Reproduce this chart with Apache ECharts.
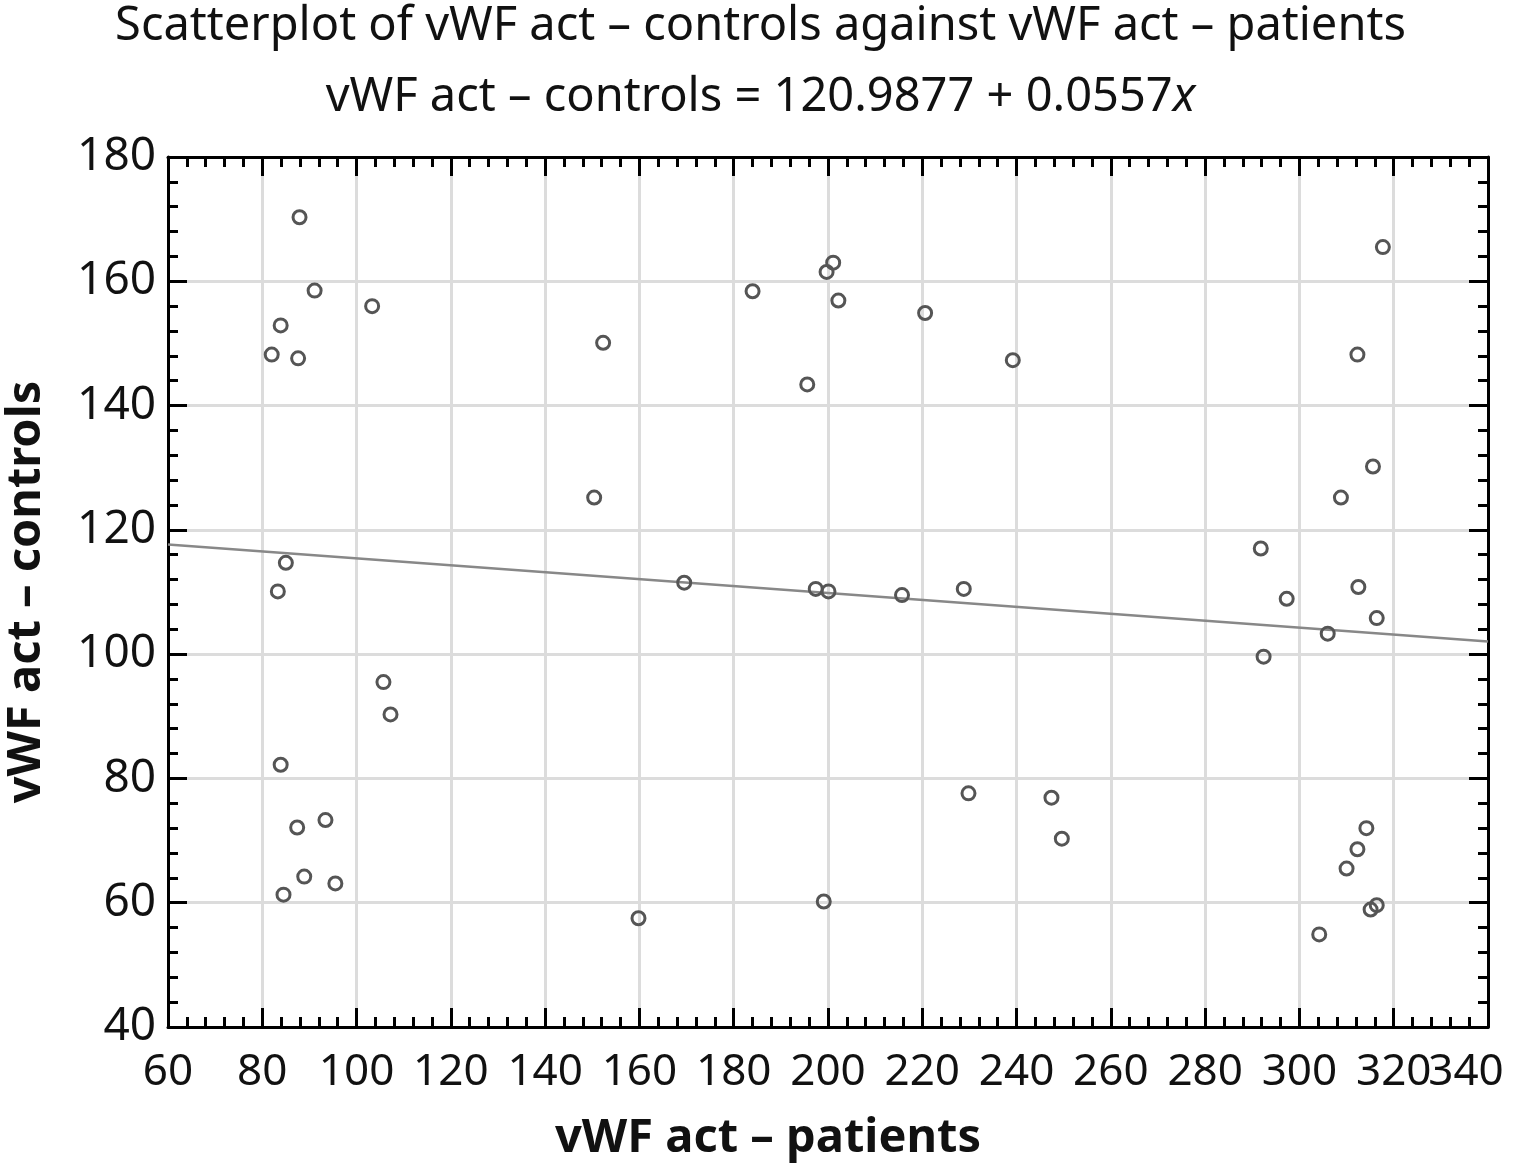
<!DOCTYPE html>
<html>
<head>
<meta charset="utf-8">
<script src="https://cdn.jsdelivr.net/npm/echarts@6/dist/echarts.min.js"></script>
<style>
html,body{margin:0;padding:0;background:#fff;}
#chart{width:1521px;height:1172px;}
</style>
</head>
<body>
<div id="chart"></div>
<script>
// vWF act – patients (x)
const patients = [87.9, 91.1, 83.9, 82.0, 87.6, 103.3, 152.3, 150.4, 85.0, 83.3,
  105.7, 107.2, 83.9, 87.4, 93.4, 88.9, 84.5, 95.5, 159.8, 169.5,
  184.0, 195.6, 199.7, 201.1, 202.2, 197.4, 200.1, 199.1, 220.6, 215.7,
  228.8, 229.8, 239.2, 247.4, 249.6, 291.8, 292.4, 297.3, 308.8, 317.7,
  312.3, 315.6, 312.5, 316.4, 306.0, 314.2, 312.3, 310.0, 316.4, 315.1, 304.2];
// vWF act – controls (y)
const controls = [170.3, 158.5, 152.9, 148.2, 147.6, 156.0, 150.1, 125.2, 114.7, 110.1,
  95.5, 90.3, 82.2, 72.1, 73.3, 64.2, 61.3, 63.1, 57.5, 111.5,
  158.4, 143.4, 161.5, 163.0, 156.9, 110.5, 110.1, 60.2, 154.9, 109.5,
  110.5, 77.6, 147.3, 76.9, 70.3, 117.0, 99.6, 108.9, 125.2, 165.5,
  148.2, 130.2, 110.8, 105.8, 103.3, 72.0, 68.6, 65.5, 59.6, 58.9, 54.9];
// regression line endpoints
const lineX = [60, 340];
const lineY = [117.65, 102.05];

const titleLine1 = 'Scatterplot of vWF act \u2013 controls against vWF act \u2013 patients';
const titleLine2 = 'vWF act \u2013 controls = 120.9877 + 0.0557';
const xName = 'vWF act \u2013 patients';
const yName = 'vWF act \u2013 controls';
const X_MIN = 60, X_MAX = 340, Y_MIN = 40, Y_MAX = 180, STEP = 20;

const FONT = 'Noto Sans';
const chart = echarts.init(document.getElementById('chart'), null, {renderer: 'canvas'});

function axisCommon(showLabel) {
  return {
    axisLine: {show: true, lineStyle: {color: '#000', width: 3}},
    axisTick: {show: true, inside: true, length: 19, lineStyle: {color: '#000', width: 3}},
    minorTick: {show: true, splitNumber: 5, length: 10, lineStyle: {color: '#000', width: 3}},
    axisLabel: {show: showLabel, color: '#111', fontFamily: FONT, fontSize: 46},
  };
}

const option = {
  backgroundColor: '#fff',
  animation: false,
  title: [
    {text: titleLine1, left: 'center', top: -2,
     textStyle: {fontFamily: FONT, fontSize: 47, fontWeight: 'normal', color: '#111'}},
    {text: titleLine2 + '{i|x}', left: 'center', top: 69,
     textStyle: {fontFamily: FONT, fontSize: 47, fontWeight: 'normal', color: '#111',
       rich: {i: {fontFamily: FONT, fontSize: 47, fontStyle: 'italic', color: '#111'}}}}
  ],
  grid: {left: 168, right: 33, top: 157, bottom: 145, containLabel: false, outerBoundsMode: 'none'},
  xAxis: [
    Object.assign(axisCommon(true), {
      type: 'value', min: X_MIN, max: X_MAX, interval: STEP, position: 'bottom',
      name: xName, nameLocation: 'middle', nameGap: 88,
      nameTextStyle: {fontFamily: FONT, fontSize: 47, fontWeight: 'bold', color: '#111', padding: [0, 120, 0, 0]},
      splitLine: {show: true, lineStyle: {color: '#dcdcdc', width: 3}},
      axisLabel: {show: true, color: '#111', fontFamily: FONT, fontSize: 44, margin: 23,
        showMaxLabel: false, showMinLabel: true}
    }),
    Object.assign(axisCommon(false), {
      type: 'value', min: X_MIN, max: X_MAX, interval: STEP, position: 'top',
      splitLine: {show: false}
    }),
    {
      type: 'value', min: X_MIN, max: X_MAX, interval: STEP, position: 'bottom',
      axisLine: {show: false}, axisTick: {show: false}, minorTick: {show: false},
      splitLine: {show: false},
      axisLabel: {show: true, color: '#111', fontFamily: FONT, fontSize: 44, margin: 23,
        showMaxLabel: true, hideOverlap: false,
        formatter: v => (v === X_MAX ? '{r|' + v + '}' : ''),
        rich: {r: {fontFamily: FONT, fontSize: 44, color: '#111', padding: [0, 44, 0, 0]}}}
    }
  ],
  yAxis: [
    Object.assign(axisCommon(true), {
      type: 'value', min: Y_MIN, max: Y_MAX, interval: STEP, position: 'left',
      name: yName, nameLocation: 'middle', nameGap: 118,
      nameTextStyle: {fontFamily: FONT, fontSize: 47, fontWeight: 'bold', color: '#111'},
      splitLine: {show: true, lineStyle: {color: '#dcdcdc', width: 3}},
      axisLabel: {show: true, color: '#111', fontFamily: FONT, fontSize: 46, margin: 12,
        showMaxLabel: true, showMinLabel: true}
    }),
    Object.assign(axisCommon(false), {
      type: 'value', min: Y_MIN, max: Y_MAX, interval: STEP, position: 'right',
      splitLine: {show: false}
    })
  ],
  series: [
    {
      type: 'line', xAxisIndex: 0, yAxisIndex: 0,
      data: lineX.map((x, i) => [x, lineY[i]]),
      symbol: 'none', lineStyle: {color: '#888', width: 2.5}, z: 2
    },
    {
      type: 'scatter', xAxisIndex: 0, yAxisIndex: 0,
      data: patients.map((x, i) => [x, controls[i]]),
      symbol: 'circle', symbolSize: 13,
      itemStyle: {color: 'rgba(255,255,255,0)', borderColor: '#555', borderWidth: 3, opacity: 1}, z: 3
    }
  ]
};
chart.setOption(option);
</script>
</body>
</html>
